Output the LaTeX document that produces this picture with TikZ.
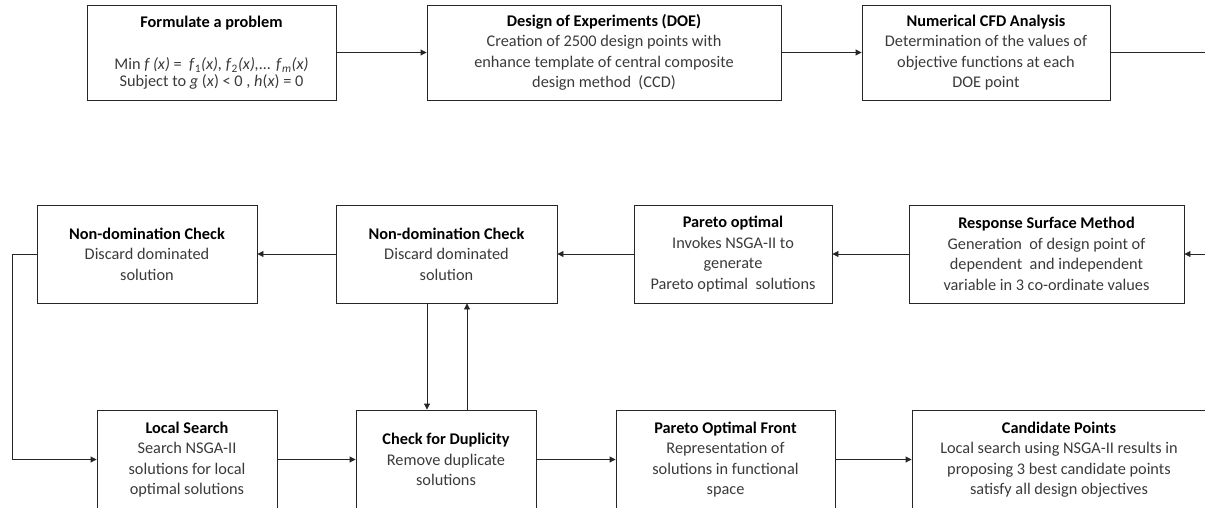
\documentclass[tikz,border=0pt]{standalone}
\usepackage{fontspec}
\setmainfont{Carlito}
\usetikzlibrary{arrows.meta}
\definecolor{txt}{HTML}{3A3A3A}
\definecolor{lnc}{HTML}{262626}
\tikzset{
 box/.style={draw=lnc, line width=0.9pt, align=center, inner sep=2pt,
   font=\fontsize{16.3}{20.5}\selectfont, text=txt},
 arr/.style={line width=0.9pt, draw=lnc, -{Triangle[length=6pt,width=6pt]}},
 ln/.style={line width=0.9pt, draw=lnc},
}
\newcommand{\ttl}[1]{\textcolor{black}{\textbf{#1}}}
\begin{document}
\begin{tikzpicture}[x=1pt,y=-1pt]
\useasboundingbox (0,0) rectangle (1205,508);
\clip (0,0) rectangle (1205,508);
% row 1
\node[box, minimum width=249pt, minimum height=95pt] (form) at (211.5,52.5)
 {\ttl{Formulate a problem}\\[22pt]
  Min \textit{f (x)} =\ \ \textit{f}\textsubscript{1}\textit{(x), f}\textsubscript{2}\textit{(x),... f}\textsubscript{\textit{m}}\textit{(x)}\\[-3.5pt]
  Subject to \textit{g} (\textit{x}) < 0 , \textit{h}(\textit{x}) = 0};
\node[box, minimum width=354pt, minimum height=95pt] (doe) at (604,52.5)
 {\ttl{Design of Experiments (DOE)}\\
  Creation of 2500 design points with\\
  enhance template of central composite\\
  design method\ \ (CCD)};
\node[box, minimum width=248pt, minimum height=95pt] (cfd) at (986,52.5)
 {\ttl{Numerical CFD Analysis}\\
  Determination of the values of\\
  objective functions at each\\
  DOE point};
\coordinate (r1end) at (1205,52.5);
% row 2
\node[box, minimum width=220pt, minimum height=98pt] (nd1) at (147,254)
 {\ttl{Non-domination Check}\\ Discard dominated\\ solution};
\node[box, minimum width=221pt, minimum height=98pt] (nd2) at (446.5,254)
 {\ttl{Non-domination Check}\\ Discard dominated\\ solution};
\node[box, minimum width=198pt, minimum height=98pt] (po) at (733,254)
 {\ttl{Pareto optimal}\\ Invokes NSGA-II to\\ generate\\ Pareto optimal\ \ solutions};
\node[box, minimum width=275pt, minimum height=98pt] (rsm) at (1046.5,254)
 {\ttl{Response Surface Method}\\ Generation\ \ of design point of\\ dependent\ \ and independent\\ variable in 3 co-ordinate values};
\coordinate (r2start) at (1205,254);
% row 3
\node[box, minimum width=180pt, minimum height=99pt] (ls) at (187,459.5)
 {\ttl{Local Search}\\ Search NSGA-II\\ solutions for local\\ optimal solutions};
\node[box, minimum width=180pt, minimum height=99pt] (cd) at (446,459.5)
 {\ttl{Check for Duplicity}\\ Remove duplicate\\ solutions};
\node[box, minimum width=219pt, minimum height=99pt] (pof) at (725.5,459.5)
 {\ttl{Pareto Optimal Front}\\ Representation of\\ solutions in functional\\ space};
\node[box, minimum width=294pt, minimum height=99pt] (cand) at (1059,459.5)
 {\ttl{Candidate Points}\\ Local search using NSGA-II results in\\ proposing 3 best candidate points\\ satisfy all design objectives};
\coordinate (lx) at (12,254);
% connectors row 1
\draw[arr] (form) -- (doe);
\draw[arr] (doe) -- (cfd);
\draw[ln] (cfd.east) -- (r1end);
% row 2
\draw[arr] (r2start) -- (rsm.east);
\draw[arr] (rsm) -- (po);
\draw[arr] (po) -- (nd2);
\draw[arr] (nd2) -- (nd1);
\draw[arr] (nd1.west) -- (lx) |- (ls.west);
% vertical links
\draw[arr] ([xshift=-19.5pt]nd2.south) -- ([xshift=-19pt]cd.north);
\draw[arr] ([xshift=21pt]cd.north) -- ([xshift=20.5pt]nd2.south);
% row 3
\draw[arr] (ls) -- (cd);
\draw[arr] (cd) -- (pof);
\draw[arr] (pof) -- (cand);
\end{tikzpicture}
\end{document}
